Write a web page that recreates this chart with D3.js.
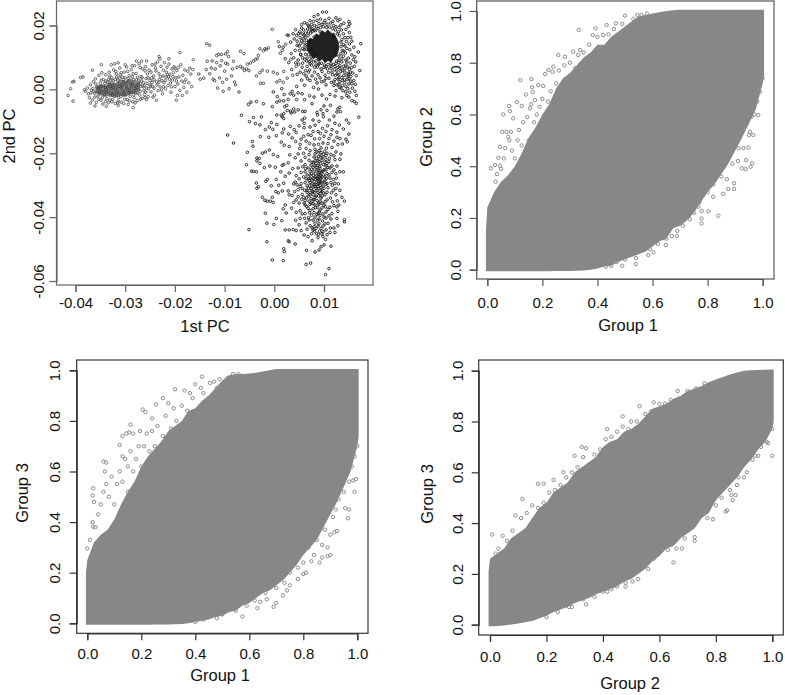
<!DOCTYPE html>
<meta charset="utf-8">
<style>
    html, body { margin: 0; background: #fff; }
    svg { display: block; }
    text { font-family: "Liberation Sans", Arial, sans-serif; fill: #111; }
</style>
<svg id="canvas" width="785" height="695"></svg>
<script src="https://d3js.org/d3.v7.min.js"></script>
<script>

    // PC panel, all values in units of 0.001
    var pcUnit = 0.001;
    var pcTicksX = [-0.04, -0.03, -0.02, -0.01, 0.00, 0.01];
    var pcTicksY = [-0.06, -0.04, -0.02, 0.00, 0.02];
    var groupTicks = [0, 0.2, 0.4, 0.6, 0.8, 1];

    var westCoreX = [-36, -35, -34, -33, -32, -31, -30, -29, -28, -27];
    var westCoreLow = [-1, -1.8, -2.4, -1.9, -2.6, -2, -2.4, -1.6, -1.2, .2];
    var westCoreHigh = [.8, 1.6, 1.2, 2.4, 2, 3.2, 2.6, 3.4, 2.6, 2.4];

    var northCoreX = [6.6, 7.2, 7.8, 8.4, 9, 9.6, 10.2, 10.8, 11.4, 12, 12.6, 13];
    var northCoreLow = [12, 11, 9.4, 10, 8.6, 9.4, 8.2, 9, 8.4, 9.8, 10.4, 12.4];
    var northCoreHigh = [15, 16.2, 15.8, 17.6, 17, 18.6, 17.8, 18.8, 17.4, 17.8, 16, 14.6];

    var southCoreX = [8.4, 9, 9.6];
    var southCoreLow = [-29, -30, -28];
    var southCoreHigh = [-27, -26, -25];

    var westPoints = [[-41.5,-1.9],[-41,.2],[-40.5,-3.7],[-40.6,2.3],[-40.3,2.5],[-39,3.7],[-38.5,3.9],[-36.6,6],[-34.8,7.7],[-32.8,7.7],[-32.1,8],[-31.4,8.3],[-30,7.7],[-27.7,8.9],[-26.7,8.8],[-25.7,8.9],[-23.2,10.3],[-23,9.6],[-21.2,9.6],[-19,11.5],[-16.3,9.3],[-28.4,-5.7],[-31.4,-5],[-33.8,-5.3],[-36.1,-5.2],[-37,-4.3],[-19.7,-3.4],[-18.5,-1.9],[-19.5,-1.9],[-23.7,-3.4],[-25.7,-3.2],
        [-38.2,-.1],[-38,-.6],[-37.6,.4],[-37.4,-1.4],[-37.2,-2.6],[-37,1.4],[-36.8,-.2],[-36.6,-3.3],[-36.4,2.4],[-36.2,-1.2],[-36,3.3],[-35.8,-4.1],[-35.7,.8],[-35.5,-2.1],[-35.3,4.4],[-35.2,-.5],[-35,1.9],[-34.9,-3.4],[-34.7,5.2],[-34.5,-4.6],[-34.4,3.1],[-34.2,-1.7],[-34,.5],[-33.9,4.6],[-33.7,-2.9],[-33.5,2.3],[-33.4,-4.2],[-33.2,5.4],[-33,.9],[-32.9,-1.3],[-32.7,3.7],[-32.5,-3.1],[-32.3,6.1],[-32.2,1.5],[-32,-4.4],[-31.8,4.8],[-31.6,-.7],[-31.5,2.9],[-31.3,-2.5],[-31.1,6.7],[-30.9,.6],[-30.8,-4],[-30.6,3.9],[-30.4,-1.7],[-30.2,5.4],[-30.1,-3.1],[-29.9,2.1],[-29.7,7],[-29.5,-.3],[-29.4,-4.7],[-29.2,4.3],[-29,-2.2],[-28.8,6.2],[-28.7,.9],[-28.5,-3.9],[-28.3,3.1],[-28.1,7.4],[-27.9,-1.2],[-27.8,5],[-27.6,-3.5],[-27.4,1.6],[-27.2,8],[-27,-.6],[-26.8,4],[-26.6,-2.8],[-26.5,6.4],[-26.3,2.1],[-26.1,-1.6],[-25.9,7.1],[-25.7,.4],[-25.5,4.8],[-25.4,-2.3],[-25.2,6],[-25,2.8],[-24.8,-.8],[-24.6,7.7],[-24.5,.9],[-24.3,4.2],[-24.1,-1.8],[-23.9,6.7],[-23.7,2.4],[-23.5,8.6],[-23.4,-.4],[-23.2,4.9],[-23,.8],[-22.8,7.2],[-22.6,2.7],[-22.5,-1.4],[-22.3,6],[-22.1,8.4],[-21.9,.2],[-21.8,3.9],[-21.6,6.9],[-21.4,1.2],[-21.2,7.9],[-21,4.7],[-20.8,-.9],[-20.6,6.4],[-20.5,2.9],[-20.3,5.2],[-20,.9],[-19.8,3.6],[-19.6,5.9],[-19.4,1.7],[-19.2,3.9],[-19,-.3],[-18.8,7.7],[-18.6,2.6],[-18.4,4.4],[-18.2,.6],[-18,6.1],[-17.8,3.1],[-17.6,-.9],[-17.4,5.7],[-17.2,2.1],[-17,6.7],[-16.8,4.8],[-16.6,.9],[-16.4,6.2],[-33.6,.7],[-32.6,1.2],[-31.9,.1],[-31.2,1.8],[-30.7,.9],[-30.3,2.4],[-29.8,1.2],[-33,-2],[-34.3,-.9],[-35.4,.2],[-28.6,1.8],[-28,.3],[-27.3,2.9],[-26.4,.8],[-25.6,1.9],[-24.9,.9],
        [-36.9,-1.1],[-36.5,.3],[-36.1,-2.4],[-35.9,1.7],[-35.6,-.9],[-35.1,-1.4],[-34.8,2.9],[-34.6,-2.6],[-34.1,1.9],[-33.8,-1.1],[-33.3,3.2],[-33.1,-3.4],[-32.8,.2],[-32.4,2.7],[-32.1,-2.1],[-31.7,3.9],[-31.4,-3.6],[-31,4.6],[-30.5,-.4],[-30,3.6],[-29.6,-3.2],[-29.3,2.6],[-28.9,-1],[-28.4,4.9],[-28.2,-2.6],[-27.7,.6],[-27.5,3.8],[-27.1,-1.8],[-26.7,2.6],[-26.2,-.4],[-25.8,3.4],[-25.3,.2],[-24.7,3.6],[-24.2,.4],[-23.8,5.8],[-23.1,3.1],[-22.7,-.2],[-22.2,2.1],[-21.7,5.4],[-21.1,3.2],[-20.7,.8],[-20.2,7.1],[-19.3,6.9],[-18.1,2.2],[-34.9,.9],[-33.9,-.1],[-32.3,-1],[-31.1,-1.2],[-30.2,-.9],[-29.1,.1],[-28.3,-.5],[-27.6,-1.1],[-26.9,.9],[-36.3,-.6],[-35.3,-3.1],[-34,-3.8],[-32.7,-3.9],[-31.5,-4.2],[-30.3,-4.4],[-29.2,-3.6],[-28,-4.2],[-26.9,-3.1],[-26,-2.6],[-24.4,-2.4],[-33.1,4.2],[-31.9,5.6],[-30.8,5.2],[-29.5,5.6],[-28.6,7.4],[-27,6.8],[-26,5.8],[-24.8,5.4],[-24,7.9],[-22.4,4.2],[-21.3,3.9],
        [-35.2,.6],[-34.7,-.4],[-34.4,1],[-33.9,2.6],[-33.4,-.6],[-33.2,1.6],[-32.9,2.9],[-32.6,-1.8],[-32.4,.5],[-32,3.1],[-31.7,-1.4],[-31.5,.9],[-31.2,3.6],[-30.9,-2.2],[-30.6,1.5],[-30.4,3.1],[-30,-1.6],[-29.7,.4],[-29.4,3.4],[-29.2,-1],[-28.9,1.6],[-28.6,3.9],[-28.3,-1.6],[-28,1.2],[-27.7,3],[-27.3,-.2],[-26.9,1.8],[-26.6,3.6],[-26.2,1.2],[-25.9,-.8],[-25.4,3.6],[-25,1.4],[-24.6,2.2],[-24.2,3],[-23.6,1.4],[-23.2,2.2],[-22.9,4],[-22.3,.8],[-21.9,2.8],[-21.5,4.6],[-20.9,2],[-20.4,4],[-20,6.6],[-19.7,2.6]];

    var bridgePoints = [[-13.6,14.3],[-13,13.8],[-11.6,10.6],[-11.2,11],[-10.6,10.9],[-9.8,11.1],[-9.4,11.8],[-9.2,10.3],[-6.8,11.9],[-6.1,11.2],[-3.2,10.7],[-2.2,12.1],[-1.6,12.5],[-2.9,12.7],[-1.9,12.7],[-1.2,13],[-.4,18.8],
        [-15.2,4.8],[-14.9,3.2],[-14.2,3.5],[-13.7,6.2],[-13.5,8.8],[-13,4.9],[-12.7,6.7],[-12.5,8.9],[-12.3,3.2],[-12,2.7],[-11.9,6.4],[-11.6,8.4],[-11.4,.4],[-11,3.6],[-10.9,7.4],[-10.6,9],[-10.4,2.2],[-10.3,-.6],[-10,5.7],[-9.8,8.2],[-9.6,3.2],[-9.4,7.9],[-9.1,.2],[-8.6,4.2],[-8.4,6.4],[-8.2,8.8],[-8,2.3],[-7.8,1.4],[-7.5,6.9],[-7.1,-.8],[-6.8,7.2],[-6.4,6.7],[-6,5.9],[-5.6,6.4],[-5.4,7.9],[-5.1,5.9],[-4.8,8.3],[-4.2,8.9],[-3.8,9.4],[-3.4,9.6],[-3.6,4.2],[-2.9,5.2],[-2.8,1.9],[-2.4,6],[-2.2,1.9],[-1.4,5.7],[-.2,5.4],[.6,4.9],[.8,14.9],[1.2,11.3],[1.6,12.2],[1.9,5.6],[2.3,14.1],[2.6,3.5],[.5,2.3],[1.1,2.8],[1.8,2.2],[3.3,9.4],[3.7,4.4],[4.4,7.2],[2.9,16.9]];

    var northPoints = [[10.5,24.2],[9.7,24.2],[8.8,23.4],[8,22.8],[12.4,22.4],[15.2,20.5],[14.9,19.7],[17.4,14.3],[6.1,20.9],[5.5,20.3],[4.3,18.7],[2.6,17],[3.3,14.8],[1,13.4],[1.8,13.2],[16.9,11.7],[15.9,9.3],[17.2,5.9],[16.5,-1.9],[16.5,-4.4],[17,-8.7],
        [4,15.8],[4.6,13.8],[4.2,12.2],[3.4,11.2],[3.9,9.9],[4.8,9.2],[5.3,10.8],[4.9,7.9],[5.6,6.9],[5.2,5.4],[5.9,4.9],[6.4,4.2],[4.6,4.7],[5.5,19.2],[6.6,20.5],[7.2,21.5],[7.5,20.3],[8.6,21.6],[9.3,22],[10.2,21.6],[11,22.2],[11.8,21.3],[12.8,21.5],[13.4,20.2],[14,20.7],[14.4,18.8],[15.1,17.8],[14.8,16.2],[15.6,15.1],[16,13.2],[15.2,12.4],[15.6,10.8],[14.9,9.8],[15.3,8.2],[16.1,7.2],[15.1,6.3],[14.4,7.6],[14.2,5.4],[15.8,5.1],[16.5,4.3],[15.4,4],[14.7,3.1],[16,2.8],[15,1.7],[14.2,2.1],[13.6,3.7],[13,4.6],[12.6,5.8],[11.7,4.6],[10.9,5.3],[10.2,4.4],[9.6,5.6],[8.8,4.6],[8.1,5.4],[7.6,4.2],[6.9,5.4],[6.6,7.2],[7.1,6.1],[13.2,2.4],[12.2,3.1],[11.5,2.2],[13.7,1.2],[14.8,.2],[15.7,.4],[16.2,-.6],[15.2,-.9],[13.8,-.4],[13.1,.6],[12.4,-.4],[9.5,2.4],[10.4,1.4],[8.6,2],[7.9,.6],[8.9,.1],[6.1,1.3],[5.5,2.9],[4.5,.9],[3.6,-.6],[3.9,-1.8],[4.8,-1.1],[5.6,-1.4],[12.2,-2.1],[13.6,-2.6],[14.6,-1.9],[11.2,-1.6],[10.5,-3],[9.6,-1.8],[8,-2.4],[7.1,-2],[6.1,-3.2],[4.5,-3.2],[15.6,-3.5],[16.1,-3.8],[12.8,-6.1],[13.3,-7],[13.2,-5.6],[12.6,-7.1],[11.3,-5],[10,-5.2],[9.4,-6.4],[9.8,-7.6],[8.7,-8],[7.6,-4.5],[6.2,-6.9],[5.7,-6.9],[4.8,-6.4],[3.9,-6.1],[3.3,-6.8],[2.5,-5],[2.1,-5.4],[1.9,-3.6],[1.1,-3.6],[.6,-2.3],[2,-1.6],[2.8,-3.2],[3.2,-1.4],[1.5,.2],[-.2,-.8],[1.9,-7.6],[1.6,-8.6],[1.9,-9.1],[.5,-4],[-.4,-5.4],[-2.2,-4.5],[-3.6,-3.8],[-4.7,-4],[-5.2,-4.7],[-6.6,-8.1],[-5,-10.1],[-4.2,-8.8],[-3.8,-10.7],[-2.6,-8.6],[-2.9,-11.1],[-.6,-10.4],
        [5.1,12.2],[5.3,14.4],[5.2,16.2],[5.6,17.4],[5.9,18.6],[6.3,17.6],[6.7,18.9],[7.1,19.6],[7.6,19],[8.1,20],[8.5,19.6],[9,20.6],[9.6,20.4],[10,20.9],[10.6,20.4],[11.3,20.8],[11.9,20],[12.4,19.6],[13,19.4],[13.5,18.6],[13.9,17.4],[14.2,16.2],[14.5,15],[14.2,13.6],[14.6,12.8],[14.3,11.4],[13.9,10.4],[14.4,9.2],[13.6,8.6],[13.9,7.2],[13.2,7.4],[12.8,6.9],[12.1,6.2],[11.4,6.6],[10.7,6.4],[10,6.9],[9.4,6.4],[8.7,7],[8.1,6.9],[7.5,7.6],[7,8.6],[6.5,8.9],[6.1,9.4],[5.7,9.9],[5.3,11],[5,13.6],[4.6,15.1],[4.5,16.9],[5.1,18],[5.8,15.8],[6.6,14],[6,12.4],[13.4,13.4],[13.6,15.6],[12.9,18],[8,18.6],[11.4,8],[12.4,8.1],[13,9.2],[7.4,9.2],[9,8],[14.9,5],[14,4.4],[13.4,5.6],[12.3,4.4],[11.6,5.4],[10.4,3.4],[9.2,3.6],[8.3,3.2],[7.2,2.8],[14.4,.9],[13,1.6],[12,1.2],[15.4,2.6],[15,3.4],[16.3,1.6],[15.5,6.8],[16.4,8.6],[14.6,8.6],[13.7,6],[12.8,3.2],[11,3.5],[10,2.6],[6.7,3.3],[6.3,5.9],[5.7,8.2],[4.3,8.3],[3.5,6.2],[2.9,8.4],[2.2,9.6],[15,21.2],[13.2,21.9],[7.9,21.3],[6.9,19.9],[4.9,17.4],[3.8,17.4],[15.4,16.3],[15.1,14.2],[16.2,10.2],
        [6,14.6],[6.2,16.4],[6.4,12.6],[6.8,16.8],[6.9,10.9],[7.3,17.6],[7.4,10.2],[7.7,18.2],[7.9,8.6],[8.3,18.4],[8.4,8.9],[8.8,19],[8.9,7.8],[9.3,19.4],[9.5,8.2],[9.9,19.6],[10.1,7.6],[10.5,19.4],[10.8,7.8],[11.1,19.5],[11.4,7.2],[11.7,19],[11.9,7.8],[12.3,18.6],[12.5,8.8],[12.7,17.4],[13,10.4],[13.1,16.8],[13.4,11.2],[13.4,14.8],[13.7,12.2],[6.3,11],[5.7,12.8],[5.5,15.2],[6,17],[6.9,18],[7.5,18.6],[13.9,14],[14,12],[13.6,9.6],[12.9,8.4],[12.2,7.2],[10.4,7.1],[8.4,7.6],[7.2,8],[6.6,9.8],[6.2,13.6],[6.5,15.4],[7,15],[7.4,12.6],[8.2,10.8],[12.4,12],[12,16.4],[11.2,17.6],[9.2,18],[8,16.4],[13.2,6.6],[12.6,4.8],[14.2,6.6],[14.8,7],[15,4.6],[13.7,2.8],[14.6,4.2],[15.3,5.4],[13,3.6],[12,2.3],[14.1,3],[15.6,1.8],[13.4,.4],[12.6,1.4],[14.4,-.8],[15,-2.4]];

    var southPoints = [[11,-56.1],[10.3,-58],[7.3,-54.4],[6.4,-54.8],[1.8,-53.6],[-.4,-53.4],[2,-50.8],[1.9,-49.9],[-1.5,-47.7],[-5.1,-43.9],[-8.2,-16.8],[-9.4,-14.3],[9,-50.3],[8.2,-50.9],[6.5,-50.4],[4.2,-48.4],[2.8,-47.4],[3,-47.7],[11.4,-49.1],[10,-48.7],[9.4,-49.3],[7.6,-47.4],[10.3,-47],
        [-5.4,-19.7],[-5.6,-23.6],[-4.6,-25.6],[-4.2,-25.7],[-3.6,-25.8],[-3.6,-29.3],[-3.5,-31],[-3.2,-30.5],[-2,-24.5],[-1.7,-28.8],[-1.4,-28.2],[-4.4,-16.3],[-4.3,-17.8],[-3.5,-21.5],[-3,-21.6],[-2.4,-20],[-1.8,-19.6],[-1,-19],[-3.5,-22.4],[-2.9,-23.2],[-1.1,-15],[-.3,-12.5],[.4,-14.5],[1.4,-16.5],[2,-17.5],[3,-17.9],[3.1,-20.5],[1.6,-23.8],[1.9,-23.5],[2.8,-23],[-2.4,-33.8],[-1.9,-34.7],[-1.4,-35],[-.8,-35],[-.4,-33.8],[.3,-32],[.8,-32.4],[-.2,-35.4],[1.6,-31.8],[2.8,-31.8],[3,-33],[2.2,-36.2],[1.8,-37.4],[2.4,-38.7],[3.5,-37.2],[4.4,-38.5],[-1.8,-38.8],[-1.5,-41.9],[.4,-40.4],[-.1,-42.3],[1.5,-41.1],[2.2,-44],[3,-44],[3.8,-43.9],[4.4,-44.2],[4.3,-41],[5.2,-40.4],[5.6,-39],[6.1,-40.4],[6.9,-40.2],
        [.5,-8],[1.4,-8.1],[2.6,-6.6],[3.4,-7.4],[4.1,-7.1],[5.6,-9.6],[6.1,-9],[3.2,-11.6],[4,-12.6],[5,-11.4],[6,-12],[7.2,-11.8],[8.2,-11.2],[9,-10],[9.9,-8.6],[11.1,-9.6],[12.2,-10.6],[13.1,-11.2],[14.5,-9.6],[15,-10.6],[13.9,-12.4],[15,-14],[14.4,-15.6],[14.7,-16.4],[13.2,-15.4],[12.6,-13.4],[11.6,-12.6],[10.7,-11.4],[9.7,-12.2],[8.8,-13.2],[7.8,-13.2],[6.8,-14.2],[5.9,-14.7],[4.4,-13.5],[4.3,-16.3],[5.2,-17.2],[5.1,-18.5],[6.4,-18.5],[7.1,-16.9],[8.1,-15.5],[9.1,-15.4],[10,-14.7],[11,-15.4],[12,-16.2],[12.8,-17.3],[13.7,-17.1],[11.6,-18.2],[10.5,-18.4],[9.4,-18.3],[8.2,-18.8],[7.2,-19.2],[12.4,-19.6],[13.4,-20.2],[13.2,-21.9],[12.2,-22],[11.4,-20.4],[10.4,-20.7],[9.2,-20.4],[8,-21.2],[7,-22.2],[6.2,-21.3],[5.4,-22.4],[6.2,-23.6],[7.4,-23.7],[8.4,-23.2],[9.6,-22.2],[10.6,-23.2],[11.6,-24],[12.6,-24],[13.2,-25.8],[13.9,-25.8],[12.4,-26.4],[11.6,-26],[10.4,-25.2],[9.2,-24.7],[8,-25.6],[7.2,-25.6],[6.2,-25.8],[5.4,-26],[4.4,-27],[5,-28],[4.2,-29],[3.9,-29.6],[5.4,-29.5],[6.4,-28],[7.2,-27.8],[8.2,-27.4],[9.2,-27],[10.2,-27.4],[11.2,-27.8],[12.2,-29.4],[12.9,-29.6],[11.7,-30],[10.6,-29.5],[9.6,-29.3],[8.8,-29.6],[7.6,-29.6],[6.6,-30.2],[5.6,-31],[4.8,-31.4],[4.1,-32],[3.6,-33.2],[4.8,-33.6],[5.6,-32.9],[6.6,-32.2],[7.6,-31.8],[8.6,-31.6],[9.6,-32],[10.6,-32.2],[11.5,-32.4],[12.4,-33],[13.6,-33.8],[14.1,-35],[12.7,-34.9],[11.7,-35.2],[10.6,-34.6],[9.4,-34],[8.4,-33.4],[7.4,-34.2],[6.2,-34.8],[5.5,-34.4],[5,-35.6],[6.2,-36.2],[7.2,-36],[8.2,-36.2],[9,-36],[10,-36.2],[11.2,-36.9],[12.6,-36.8],[12.8,-38.2],[11.6,-38.9],[10.4,-38.4],[9.1,-38.4],[8,-38.6],[7.2,-37.9],[6.2,-38.9],[5.2,-38],[7,-40.9],[8.2,-40],[9.2,-39.5],[10.4,-40.3],[11.4,-40.6],[12.6,-40.4],[14.1,-40.8],[14.1,-41.5],[12.8,-42.7],[11.3,-43.4],[10.2,-42.1],[9,-42.1],[8.2,-41.9],[7.2,-42.7],[7.8,-44.1],[8.4,-43.5],[9.4,-43.6],[10.4,-44],[11.2,-44.8],[12.2,-44.8],[10.6,-45.5],[9.6,-45.2],[8.5,-45.2],[7.5,-45.2],[6.8,-46.1],[8.8,-46.4],[9.8,-46.1],[6,-45.6],[5.4,-44.2],[5,-42.4],[8.4,-24.4],[9,-26],[8.8,-28],[9.8,-25.6],[9.4,-30.8],[8.2,-30.4],[7,-28.6],[10.8,-30.8],[8.6,-34.8],
        [8.6,-19.6],[9.4,-19.8],[10.1,-19.4],[8.9,-21],[9.8,-21.2],[10.4,-21.9],[8.2,-22.4],[9,-22.6],[7.6,-22.8],[11,-22.6],[8.8,-23.8],[9.9,-23.6],[10.8,-24.4],[7.8,-24.4],[6.8,-24.6],[8.6,-25.2],[9.5,-25.9],[10.6,-26.4],[7.5,-26.4],[6.6,-26.8],[8.3,-26.4],[9.9,-26.8],[11,-26.8],[7.9,-27],[8.6,-27.8],[9.4,-28],[10.2,-28.4],[6.9,-28],[7.6,-28.4],[5.9,-27.4],[8.1,-28.8],[9,-28.8],[10,-29],[7.2,-29.2],[6.2,-29.2],[8.4,-29.8],[9.2,-30],[7.8,-30.6],[6.9,-31],[8.9,-31],[10,-31],[6.1,-31.6],[7.2,-32.4],[8.1,-32.2],[9.2,-32.6],[10.2,-33],[6.8,-33.4],[7.8,-33],[8.9,-33.4],[5.9,-33.8],[7,-35],[8,-34.6],[9.2,-35],[10.2,-35.2],[6,-35.6],[7.8,-35.8],[8.7,-37],[9.6,-37.1],[10.8,-37.6],[6.8,-37.2],[7.8,-37.4],[9.8,-39],[8.6,-39.2],[7.5,-39.4],[11,-39.6],[6.4,-41.8],[9.7,-41.2],[10.8,-41.9],[8.7,-41],[8,-43],[6.6,-43.8],[9.1,-44.4],[12,-43.4],[6.3,-24.8],[5.7,-24.2],[4.8,-24.6],[5.2,-30.4],[4.6,-29.9],[4.4,-34.6],[3.9,-35.4],[11.9,-28.2],[12.5,-27.8],[11.4,-29.2],[11.9,-31.6],[12.4,-31],[13.2,-31.6],[11.3,-34],[12,-36.4],[13,-36.2],[11.2,-24.6],[12,-25.2],[11.1,-21.6],[12,-20.8],[9.8,-16.8],[10.8,-17],[8.9,-17.2],[8,-17.4],[6.4,-16.2],[7,-20.4],[5.9,-20],[4.2,-21.4],[4.8,-20.2],[3.7,-24.8],[3,-26.2],[2.2,-27.2],[1.3,-25.8],[.4,-28.2],[-.6,-30.2],[.9,-30],[1.9,-29.4],[-.9,-24],[.2,-24.4],[-.2,-20.4],[.7,-21],[-2.8,-14.8],[-1.8,-12.6],[-1,-11.8],[.5,-11],[1.9,-12.4],[2.9,-14],[3.6,-15.2],[1.6,-13.6],[9.3,-13.8],[10.4,-13.2],[11.4,-14.2],[12.6,-15],[7.4,-14.4],[5.4,-15.6],[6,-10.6],[7.8,-9.6],[8.6,-7.2],[10.6,-6.6],[12,-8.4],
        [8.2,-20.2],[9,-19.2],[9.9,-20.3],[10.6,-20],[8.5,-21.6],[9.4,-21.4],[10.2,-22.8],[8.8,-22.2],[7.9,-23],[9.3,-23.2],[10.4,-24],[8.2,-24],[9.1,-24.2],[7.5,-25],[8.9,-25.4],[10,-25.2],[7.2,-26.8],[8.9,-26.6],[9.6,-27.4],[10.5,-27.8],[7.8,-27.8],[8.3,-28.2],[9.4,-29],[10.4,-29.8],[7.1,-30.2],[8,-29.8],[8.8,-30.4],[9.8,-30.3],[7.4,-31],[8.4,-31],[9.4,-31.6],[6.6,-31.6],[7.8,-32],[8.8,-32.4],[9.9,-32.4],[7.2,-33],[8.2,-33.8],[9.6,-33.4],[6.5,-34],[7.8,-34.6],[8.9,-35.6],[9.6,-35.6],[7.4,-35.6],[8.3,-37],[9.2,-37.8],[6.5,-36.6],[10.3,-36.8],[7.1,-38.6],[8.8,-38.8],[10,-40],[7.8,-40.9],[9,-40.6],[8.8,-42.8],[9.8,-42.8],[7.6,-43.4],[8.1,-44.4],[9.8,-44.6],[8.9,-45.4]];

    // Group panels: solid part of the cloud as x / lower edge / upper edge
    var cloudX = [-.005,0,.025,.05,.075,.1,.125,.15,.175,.2,.225,.25,.275,.3,.325,.35,.375,.4,.425,.45,.475,.5,.525,.55,.575,.6,.625,.65,.675,.7,.725,.75,.775,.8,.825,.85,.875,.9,.925,.95,.975,1,1.005];

    var g1g2Low = [-.006,-.006,-.006,-.006,-.006,-.006,-.006,-.006,-.006,-.006,-.006,-.005,-.005,-.005,-.004,-.003,0,.005,.012,.015,.03,.04,.05,.06,.07,.09,.11,.12,.16,.17,.19,.22,.26,.3,.33,.37,.41,.46,.51,.565,.62,.72,.75];
    var g1g2High = [.15,.24,.3,.34,.365,.4,.45,.51,.55,.6,.64,.7,.74,.76,.79,.82,.84,.87,.87,.9,.92,.94,.96,.98,.985,.99,.995,1,1.003,1.005,1.005,1.005,1.005,1.005,1.005,1.005,1.005,1.005,1.005,1.005,1.005,1.005,1.005];

    var g1g3Low = [-.006,-.006,-.006,-.006,-.006,-.006,-.006,-.006,-.006,-.006,-.006,-.005,-.005,-.005,-.004,-.003,0,.005,.01,.015,.025,.03,.045,.05,.07,.08,.1,.12,.13,.15,.17,.2,.23,.27,.3,.33,.38,.43,.48,.54,.6,.7,.74];
    var g1g3High = [.2,.25,.32,.35,.37,.41,.47,.52,.56,.62,.66,.69,.72,.76,.78,.8,.84,.85,.88,.9,.93,.96,.98,.985,.985,.987,.99,.995,1,1.005,1.005,1.005,1.005,1.005,1.005,1.005,1.005,1.005,1.005,1.005,1.005,1.005,1.005];

    var g2g3Low = [-.006,-.006,-.005,-.003,.001,.005,.01,.015,.025,.035,.05,.06,.07,.085,.095,.105,.12,.13,.14,.15,.17,.18,.2,.22,.25,.27,.3,.31,.34,.36,.38,.42,.44,.49,.52,.55,.58,.62,.65,.69,.72,.77,.8];
    var g2g3High = [.21,.26,.28,.3,.34,.36,.38,.42,.46,.48,.52,.54,.56,.6,.62,.64,.66,.7,.72,.73,.76,.77,.79,.82,.85,.86,.87,.89,.9,.92,.93,.94,.955,.965,.975,.985,.993,1,1.002,1.003,1.004,1.005,1.005];

    var g1g2Points = [[.058,.6],[.079,.633],[.082,.613],[.12,.733],[.16,.737],[.163,.705],[.165,.686],[.14,.677],[.107,.648],[.125,.633],[.155,.624],[.173,.656],[.185,.714],[.203,.71],[.21,.756],[.222,.772],[.24,.785],[.237,.765],[.094,.585],[.054,.533],[.07,.533],[.086,.533],[.076,.514],[.046,.475],[.04,.433],[.013,.392],[.028,.405],[.046,.402],[.332,.927],[.393,.933],[.433,.946],[.467,.952],[.5,.982],[.421,.907],[.383,.907],[.337,.849],[.312,.843],[.258,.83],[.282,.823],
        [.839,.209],[.778,.227],[.803,.226],[.778,.198],[.778,.179],[.539,.022],[.585,.057],[.603,.067],[.648,.095],[.615,.121],[.688,.13],[.736,.195],[.766,.244],[.82,.282],[.857,.293],[.875,.312],[.896,.312],[.896,.334],[.924,.392],[.938,.389],[.956,.398],[.962,.411],[.94,.424],[.912,.469],[.948,.472],[.966,.521],[.954,.533],[.96,.592],[.984,.598],[.99,.688],[.996,.746],
        [.02,.26],[.03,.34],[.035,.37],[.05,.39],[.06,.43],[.065,.47],[.08,.5],[.09,.46],[.1,.43],[.11,.5],[.115,.54],[.125,.48],[.13,.57],[.145,.59],[.15,.5],[.16,.64],[.17,.57],[.18,.6],[.19,.63],[.2,.66],[.21,.6],[.22,.65],[.23,.69],[.24,.63],[.25,.72],[.26,.77],[.27,.7],[.28,.79],[.29,.74],[.3,.8],[.31,.72],[.32,.78],[.33,.83],[.345,.76],[.35,.84],[.36,.8],[.37,.87],[.385,.83],[.4,.9],[.41,.86],[.42,.81],[.44,.91],[.45,.87],[.46,.93],[.48,.91],[.49,.95],[.51,.93],[.53,.97],[.545,.985],[.56,.985],[.58,.99],
        [.43,.012],[.45,.015],[.47,.03],[.49,.015],[.5,.04],[.52,.06],[.54,.045],[.56,.08],[.57,.1],[.59,.08],[.6,.105],[.62,.1],[.63,.13],[.65,.12],[.66,.16],[.67,.13],[.69,.15],[.7,.2],[.71,.17],[.72,.22],[.74,.25],[.75,.22],[.76,.29],[.77,.26],[.78,.31],[.8,.3],[.81,.37],[.82,.33],[.83,.38],[.85,.36],[.86,.42],[.87,.35],[.88,.45],[.89,.41],[.9,.5],[.91,.42],[.92,.53],[.93,.47],[.94,.56],[.95,.52],[.96,.62],[.97,.6],[.98,.65],[.99,.72],[1,.74]];

    var g1g3Points = [[0,.296],[.01,.33],[.022,.382],[.022,.534],[.02,.505],[.025,.48],[.06,.64],[.065,.6],[.07,.635],[.12,.705],[.13,.66],[.14,.65],[.13,.74],[.145,.75],[.16,.785],[.155,.755],[.17,.75],[.195,.76],[.205,.845],[.215,.835],[.24,.81],[.255,.865],[.28,.89],[.3,.87],[.325,.925],[.36,.92],[.38,.91],[.4,.945],[.425,.975],[.42,.93],[.455,.95],[.47,.955],[.49,.965],
        [.02,.4],[.03,.38],[.04,.43],[.05,.47],[.06,.52],[.07,.55],[.08,.5],[.09,.58],[.1,.47],[.11,.55],[.12,.6],[.13,.56],[.15,.62],[.15,.52],[.16,.68],[.17,.6],[.18,.65],[.19,.7],[.2,.62],[.21,.7],[.22,.75],[.23,.68],[.24,.76],[.25,.7],[.26,.78],[.28,.74],[.29,.82],[.31,.77],[.32,.85],[.33,.8],[.35,.86],[.37,.84],[.39,.89],[.41,.83],[.43,.91],[.45,.89],[.48,.93],[.52,.97],[.54,.985],[.56,.985],
        [.575,.027],[.63,.06],[.64,.085],[.665,.095],[.69,.065],[.7,.08],[.725,.11],[.74,.13],[.75,.15],[.78,.175],[.8,.195],[.81,.2],[.83,.245],[.86,.24],[.87,.26],[.89,.265],[.9,.27],[.89,.3],[.915,.36],[.925,.365],[.955,.455],[.965,.415],[.97,.45],[.99,.52],[.995,.57],[.985,.565],
        [.4,.005],[.43,.015],[.46,.03],[.48,.02],[.5,.035],[.52,.05],[.55,.05],[.57,.08],[.59,.07],[.6,.1],[.62,.09],[.64,.13],[.66,.12],[.68,.15],[.7,.14],[.71,.18],[.73,.16],[.75,.2],[.76,.24],[.78,.22],[.79,.29],[.8,.24],[.82,.3],[.84,.27],[.85,.33],[.87,.31],[.88,.37],[.9,.35],[.91,.42],[.92,.45],[.93,.49],[.95,.52],[.97,.56],[.98,.62],[.99,.66],[1,.7]];

    var g2g3Points = [[.008,.355],[.045,.35],[.09,.43],[.115,.495],[.17,.555],[.19,.555],[.225,.57],[.26,.6],[.3,.665],[.325,.7],[.34,.695],[.415,.77],[.47,.82],[.5,.8],[.53,.86],[.58,.875],[.64,.885],[.665,.92],[.73,.93],
        [.02,.28],[.03,.3],[.06,.33],[.08,.37],[.11,.42],[.13,.44],[.15,.47],[.17,.46],[.19,.48],[.21,.52],[.23,.53],[.25,.55],[.27,.58],[.29,.6],[.31,.62],[.33,.66],[.35,.63],[.37,.67],[.39,.69],[.41,.73],[.43,.74],[.45,.76],[.47,.78],[.49,.77],[.52,.8],[.55,.83],[.57,.84],[.6,.87],[.62,.87],[.67,.89],[.7,.92],[.76,.95],
        [.34,.08],[.29,.07],[.415,.13],[.48,.15],[.48,.165],[.505,.17],[.525,.18],[.65,.245],[.58,.26],[.63,.295],[.66,.3],[.68,.3],[.725,.33],[.725,.345],[.69,.34],[.755,.44],[.835,.445],[.84,.45],[.79,.415],[.86,.49],[.87,.51],[.855,.51],[.875,.55],[1,.665],[.985,.715],[.94,.665],[.95,.665],[.9,.58],
        [.2,.03],[.24,.05],[.28,.07],[.33,.1],[.37,.11],[.4,.13],[.43,.14],[.45,.15],[.47,.2],[.5,.22],[.52,.21],[.54,.25],[.56,.22],[.58,.28],[.61,.3],[.64,.32],[.67,.35],[.7,.37],[.72,.39],[.74,.42],[.77,.42],[.8,.47],[.82,.5],[.85,.53],[.88,.58],[.91,.6],[.93,.65],[.96,.7],[.98,.72],[1,.77]];

    var svg = d3.select("#canvas");

    function corePath(xs, low, high, x, y, unit) {
        var area = d3.area()
            .x(function(d, i) { return x(xs[i] * unit); })
            .y0(function(d, i) { return y(low[i] * unit); })
            .y1(function(d, i) { return y(high[i] * unit); });
        return area(xs);
    }

    // R prints a plain hyphen, not the d3 minus sign
    function tickText(spec) {
        var f = d3.format(spec);
        return function(d) { return f(d).replace("\u2212", "-"); };
    }

    function drawPanel(p) {
        var g = svg.append("g");
        var x = d3.scaleLinear().domain(p.xDomain).range(p.xRange);
        var y = d3.scaleLinear().domain(p.yDomain).range(p.yRange);
        var unit = p.unit || 1;

        p.cores.forEach(function(c) {
            g.append("path")
                .attr("d", corePath(c.xs, c.low, c.high, x, y, unit))
                .attr("fill", c.color)
                .attr("fill-opacity", c.opacity);
        });

        p.clouds.forEach(function(c) {
            g.append("g").selectAll("circle")
                .data(c.points)
                .enter().append("circle")
                .attr("cx", function(d) { return x(d[0] * unit); })
                .attr("cy", function(d) { return y(d[1] * unit); })
                .attr("r", c.r)
                .attr("fill", "none")
                .attr("stroke", c.color)
                .attr("stroke-width", c.width);
        });

        var xAxis = g.append("g")
            .attr("transform", "translate(0," + p.box[3] + ")")
            .call(d3.axisBottom(x).tickValues(p.xTicks).tickSize(7).tickPadding(6).tickFormat(tickText(p.xFormat)));
        var yAxis = g.append("g")
            .attr("transform", "translate(" + p.box[0] + ",0)")
            .call(d3.axisLeft(y).tickValues(p.yTicks).tickSize(7).tickFormat(tickText(p.yFormat)));

        [xAxis, yAxis].forEach(function(a) {
            a.selectAll("path").attr("stroke", p.line).attr("stroke-width", 1.2);
            a.selectAll("line").attr("stroke", p.line).attr("stroke-width", 1.2);
            a.selectAll("text").style("font-size", "15px").style("font-family", "'Liberation Sans', Arial, sans-serif").attr("fill", "#111");
        });

        xAxis.selectAll("text").attr("y", null).attr("dy", null)
            .attr("text-anchor", "middle").attr("dominant-baseline", "central")
            .attr("y", p.xTickY - p.box[3]);

        yAxis.selectAll("text")
            .attr("x", null).attr("dy", null)
            .attr("text-anchor", "middle").attr("dominant-baseline", "central")
            .attr("transform", "translate(" + (p.yTickX - p.box[0]) + ",0) rotate(-90)");

        g.append("rect")
            .attr("x", p.box[0]).attr("y", p.box[1])
            .attr("width", p.box[2] - p.box[0]).attr("height", p.box[3] - p.box[1])
            .attr("fill", "none").attr("stroke", p.line).attr("stroke-width", 1.2);

        g.append("text")
            .attr("x", p.xLabel[0]).attr("y", p.xLabel[1])
            .attr("text-anchor", "middle").attr("dominant-baseline", "central")
            .style("font-size", "16.5px").text(p.xTitle);

        g.append("text")
            .attr("transform", "translate(" + p.yLabel[0] + "," + p.yLabel[1] + ") rotate(-90)")
            .attr("text-anchor", "middle").attr("dominant-baseline", "central")
            .style("font-size", "16.5px").text(p.yTitle);
    }

    var grey = "#878787";
    var greyCloud = function(points) { return [{ points: points, r: 1.7, color: "#8c8c8c", width: 1 }]; };

    drawPanel({
        unit: pcUnit,
        xDomain: [-0.04, 0.01], xRange: [75.5, 324],
        yDomain: [-0.06, 0.02], yRange: [281, 25.5],
        box: [56.5, 1, 373, 285], line: "#666",
        xTicks: pcTicksX, yTicks: pcTicksY, xFormat: ".2f", yFormat: ".2f",
        xTickY: 302, yTickX: 38,
        xTitle: "1st PC", yTitle: "2nd PC", xLabel: [205, 326], yLabel: [9, 136],
        cores: [
            { xs: westCoreX, low: westCoreLow, high: westCoreHigh, color: "#333", opacity: .6 },
            { xs: northCoreX, low: northCoreLow, high: northCoreHigh, color: "#222", opacity: 1 },
            { xs: southCoreX, low: southCoreLow, high: southCoreHigh, color: "#111", opacity: .5 }
        ],
        clouds: [
            { points: westPoints, r: 1.3, color: "rgba(60,60,60,.75)", width: 1 },
            { points: bridgePoints, r: 1.3, color: "rgba(50,50,50,.8)", width: 1 },
            { points: northPoints, r: 1.3, color: "rgba(20,20,20,.85)", width: 1 },
            { points: southPoints, r: 1.3, color: "rgba(20,20,20,.85)", width: 1 }
        ]
    });

    drawPanel({
        xDomain: [0, 1], xRange: [487.3, 762.7],
        yDomain: [0, 1], yRange: [269.7, 11],
        box: [476.7, 1, 774, 279], line: "#555",
        xTicks: groupTicks, yTicks: groupTicks, xFormat: ".1f", yFormat: ".1f",
        xTickY: 302, yTickX: 455,
        xTitle: "Group 1", yTitle: "Group 2", xLabel: [628, 325], yLabel: [426, 137],
        cores: [{ xs: cloudX, low: g1g2Low, high: g1g2High, color: grey, opacity: 1 }],
        clouds: greyCloud(g1g2Points)
    });

    drawPanel({
        xDomain: [0, 1], xRange: [87.3, 357.3],
        yDomain: [0, 1], yRange: [623.3, 370.3],
        box: [76.7, 360, 368, 633.3], line: "#333",
        xTicks: groupTicks, yTicks: groupTicks, xFormat: ".1f", yFormat: ".1f",
        xTickY: 654, yTickX: 55,
        xTitle: "Group 1", yTitle: "Group 3", xLabel: [220, 675], yLabel: [22, 493],
        cores: [{ xs: cloudX, low: g1g3Low, high: g1g3High, color: grey, opacity: 1 }],
        clouds: greyCloud(g1g3Points)
    });

    drawPanel({
        xDomain: [0, 1], xRange: [490, 772.3],
        yDomain: [0, 1], yRange: [624.7, 370.7],
        box: [478.7, 360, 783.3, 635], line: "#333",
        xTicks: groupTicks, yTicks: groupTicks, xFormat: ".1f", yFormat: ".1f",
        xTickY: 656, yTickX: 457,
        xTitle: "Group 2", yTitle: "Group 3", xLabel: [630, 683], yLabel: [427, 494],
        cores: [{ xs: cloudX, low: g2g3Low, high: g2g3High, color: grey, opacity: 1 }],
        clouds: greyCloud(g2g3Points)
    });

</script>
